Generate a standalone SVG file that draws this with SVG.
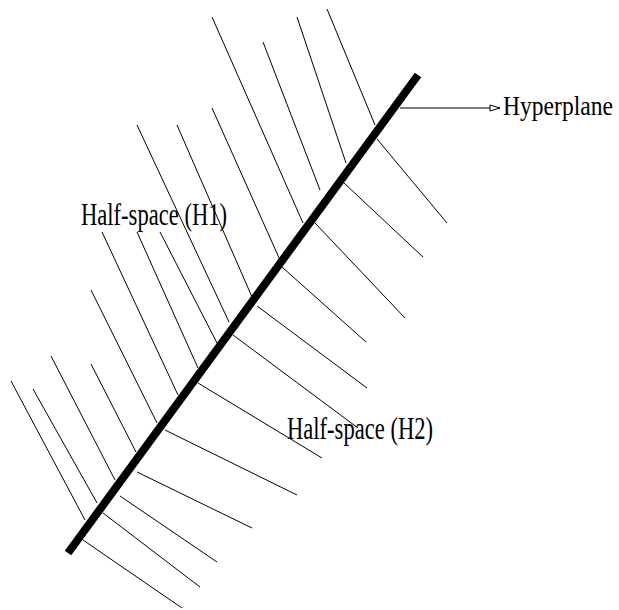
<svg xmlns="http://www.w3.org/2000/svg" width="619" height="610" viewBox="0 0 619 610">
<style>
.h{stroke:#000;stroke-width:1;fill:none}
.t{font-family:"Liberation Serif","Times New Roman",serif;fill:#000}
</style>
<defs>
<marker id="arr" markerWidth="14" markerHeight="10" refX="11" refY="4" orient="auto" markerUnits="userSpaceOnUse">
<polygon points="1,1 11,4 1,7" fill="#fff" stroke="#000" stroke-width="1"/>
</marker>
</defs>
<rect width="619" height="610" fill="#fff"/>
<g id="connectors">
<g id="hatch-upper">
<line class="h" x1="212" y1="17" x2="303" y2="223"/>
<line class="h" x1="263" y1="42" x2="320" y2="190"/>
<line class="h" x1="297" y1="17" x2="346" y2="163"/>
<line class="h" x1="327" y1="9" x2="375" y2="125"/>
<line class="h" x1="212" y1="108" x2="280" y2="260"/>
<line class="h" x1="137" y1="125" x2="229" y2="322"/>
<line class="h" x1="177" y1="125" x2="252" y2="297"/>
<line class="h" x1="102" y1="232" x2="178" y2="395"/>
<line class="h" x1="137" y1="232" x2="198" y2="368"/>
<line class="h" x1="160" y1="232" x2="217" y2="343"/>
<line class="h" x1="91" y1="290" x2="157" y2="423"/>
<line class="h" x1="91" y1="364" x2="136" y2="452"/>
<line class="h" x1="51" y1="356" x2="115" y2="480"/>
<line class="h" x1="33" y1="389" x2="97" y2="503"/>
<line class="h" x1="11" y1="381" x2="85" y2="520"/>
</g>
<g id="hatch-lower">
<line class="h" x1="377" y1="139" x2="447" y2="223"/>
<line class="h" x1="344" y1="183" x2="423" y2="257"/>
<line class="h" x1="315" y1="223" x2="405" y2="318"/>
<line class="h" x1="282" y1="267" x2="366" y2="342"/>
<line class="h" x1="257" y1="306" x2="367" y2="388"/>
<line class="h" x1="233" y1="335" x2="358" y2="428"/>
<line class="h" x1="198" y1="383" x2="322" y2="458"/>
<line class="h" x1="165" y1="430" x2="297" y2="495"/>
<line class="h" x1="137" y1="472" x2="252" y2="528"/>
<line class="h" x1="120" y1="496" x2="217" y2="562"/>
<line class="h" x1="103" y1="513" x2="200" y2="587"/>
<line class="h" x1="83" y1="540" x2="182" y2="608"/>
</g>
<line id="hyperplane-pointer" x1="400" y1="108" x2="500" y2="108" stroke="#000" stroke-width="1" marker-end="url(#arr)"/>
</g>
<g id="hyperplane">
<line x1="68" y1="553" x2="418" y2="75" stroke="#000" stroke-width="8" stroke-linecap="butt"/>
</g>
<g id="label-hyperplane" transform="translate(503,115) scale(1,1.15)">
<text class="t" x="0" y="0" font-size="24" textLength="110" lengthAdjust="spacingAndGlyphs">Hyperplane</text>
</g>
<g id="label-h1">
<text class="t" x="81" y="225" font-size="32" textLength="146" lengthAdjust="spacingAndGlyphs">Half-space (H1)</text>
</g>
<g id="label-h2">
<text class="t" x="287" y="439" font-size="32" textLength="146" lengthAdjust="spacingAndGlyphs">Half-space (H2)</text>
</g>
</svg>
